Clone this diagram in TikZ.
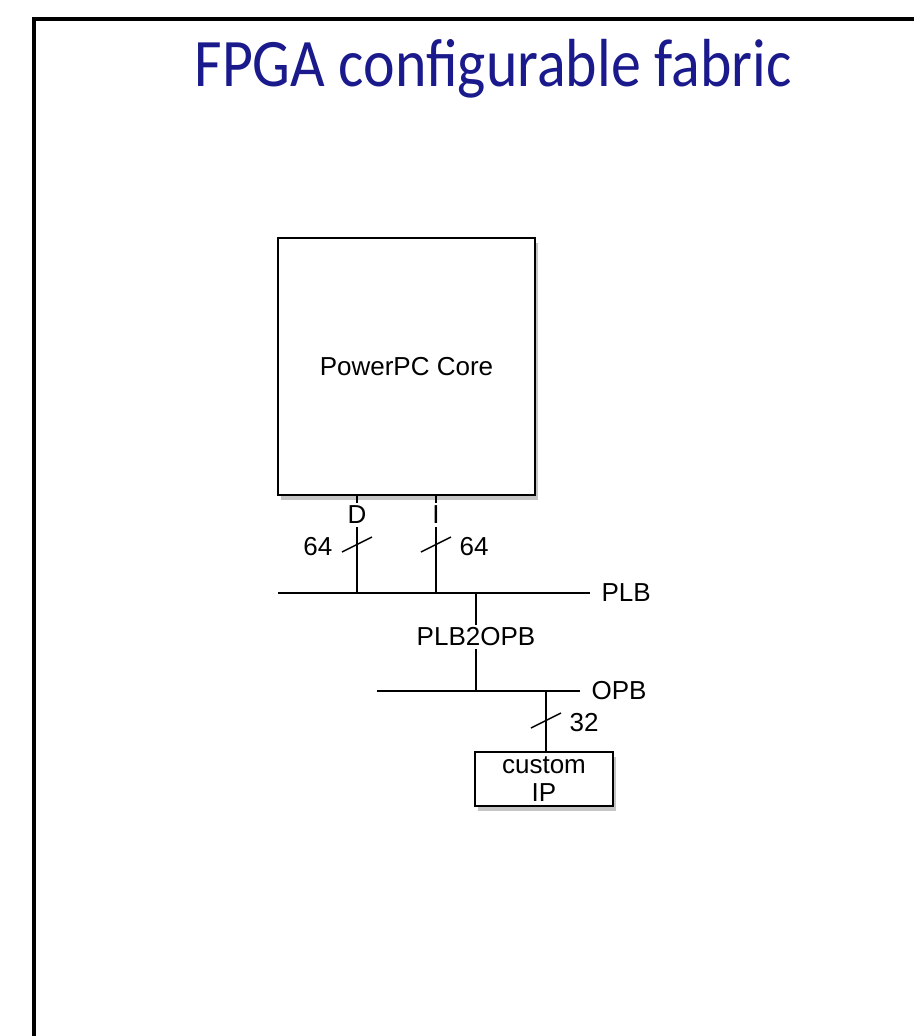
\documentclass[tikz,border=0pt]{standalone}
\usepackage{fontspec}
\setmainfont{Liberation Sans}
\newfontfamily\titlefont{Carlito}
\usetikzlibrary{calc, shadows}
\definecolor{fabricblue}{RGB}{26, 26, 140}

\begin{document}
\begin{tikzpicture}[
  x=0.75pt, y=-0.75pt,
  every node/.style={font=\fontsize{19.5}{20.5}\selectfont, inner sep=1pt},
  block/.style={draw, line width=1.2pt, fill=white, drop shadow={shadow xshift=2pt, shadow yshift=-3.5pt, opacity=0.45}},
  bus/.style={line width=1.1pt},
  tag/.style={fill=white, inner sep=2pt},
  slash/.style={line width=1.1pt},
]
  \useasboundingbox (0,0) rectangle (914,1036);
  \fill[white] (0,0) rectangle (914,1036);

  % outer frame (cut off at right and bottom)
  \draw[line width=3pt] (914,18.5) -- (34,18.5) -- (34,1036);

  \node[font=\titlefont\fontsize{51}{56}\selectfont, text=fabricblue, anchor=base] (title) at (493,86) {\scalebox{0.88}[1]{FPGA configurable fabric}};

  % blocks
  \node[block, minimum width=192.75pt, minimum height=192.75pt] (ppc) at (406.5,366.5) {PowerPC Core};
  \node[block, minimum width=103.5pt, minimum height=40.5pt, align=center] (ip) at (544,779) {custom\\IP};

  % bus end points
  \coordinate (dtop) at (357,494);
  \coordinate (dbot) at (357,593);
  \coordinate (itop) at (436,494);
  \coordinate (ibot) at (436,593);
  \coordinate (plbL) at (278,593);
  \coordinate (plbR) at (590,593);
  \coordinate (btop) at (476,593);
  \coordinate (bbot) at (476,691);
  \coordinate (opbL) at (377,691);
  \coordinate (opbR) at (580,691);
  \coordinate (iptop) at (546,691);

  \draw[bus] (plbL) -- (plbR);
  \draw[bus] (opbL) -- (opbR);
  \draw[bus] (dtop) -- (dbot);
  \draw[bus] (itop) -- (ibot);
  \draw[bus] (btop) -- (bbot);
  \draw[bus] (iptop) -- (ip.north -| iptop);

  \node[anchor=west] (plb) at ($(plbR)+(10,0)$) {PLB};
  \node[anchor=west] (opb) at ($(opbR)+(10,0)$) {OPB};
  \node[tag] (bridge) at (476,637) {PLB2OPB};
  \node[tag] (dlbl) at (357,515) {D};
  \node[tag] (ilbl) at (436,515) {I};

  % bus widths
  \draw[slash] ($(357,545)+(-15,7)$) -- ($(357,545)+(15,-8)$);
  \draw[slash] ($(436,545)+(-15,7)$) -- ($(436,545)+(15,-8)$);
  \draw[slash] ($(546,721)+(-15,7)$) -- ($(546,721)+(15,-8)$);
  \node[anchor=east] (dw) at (334,547) {64};
  \node[anchor=west] (iw) at (458,547) {64};
  \node[anchor=west] (ow) at (568,723) {32};
\end{tikzpicture}
\end{document}
